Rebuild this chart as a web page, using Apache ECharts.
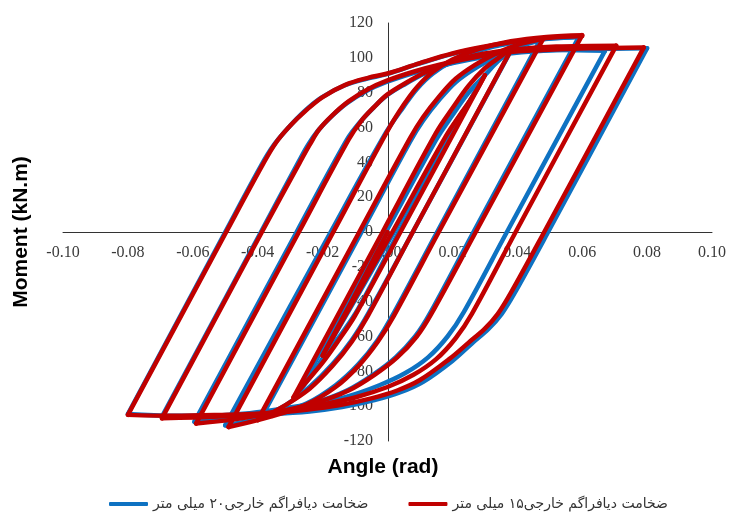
<!DOCTYPE html>
<html>
<head>
<meta charset="utf-8">
<script src="https://cdn.jsdelivr.net/npm/echarts@6/dist/echarts.min.js"></script>
<style>
  html, body { margin: 0; padding: 0; background: #fff; }
  #chart { width: 729px; height: 516px; }
</style>
</head>
<body>
<div id="chart"></div>
<script>
// Cyclic moment-rotation response of the connection for two external diaphragm thicknesses.
const seriesNames = [
  'ضخامت دیافراگم خارجی۲۰ میلی متر',
  'ضخامت دیافراگم خارجی۱۵ میلی متر'
];
const xTicks = [-0.10, -0.08, -0.06, -0.04, -0.02, 0.00, 0.02, 0.04, 0.06, 0.08, 0.10];
const yTicks = [-120, -100, -80, -60, -40, -20, 0, 20, 40, 60, 80, 100, 120];

// [angle (rad), moment (kN.m)] — 20 mm diaphragm, one array per half-cycle
const blue20 = [
  [[0, 0], [-0.010, -35], [-0.015, -53], [-0.019, -68]],
  [[-0.019, -68], [0.002, 0], [0.018, 54], [0.022, 66], [0.026, 77], [0.0285, 86]],
  [[0.0285, 86], [0.0035, 0], [-0.009, -44], [-0.014, -58], [-0.019, -70], [-0.023, -81], [-0.027, -91]],
  [[-0.027, -91], [-0.0005, 0], [0.015, 53], [0.020, 67], [0.025, 80], [0.030, 90], [0.034, 98], [0.038, 104]],
  [[0.038, 104], [0.0078, 0], [-0.006, -47], [-0.011, -62], [-0.017, -76], [-0.024, -89], [-0.031, -99], [-0.039, -107]],
  [[-0.039, -107], [-0.008, 0], [0.007, 52], [0.011, 64], [0.016, 76], [0.021, 86], [0.027, 94], [0.034, 101], [0.040, 106], [0.047, 110]],
  [[0.047, 110], [0.0153, 0], [0.0015, -48], [-0.003, -62], [-0.009, -76], [-0.016, -88], [-0.025, -98.5], [-0.037, -106], [-0.050, -111]],
  [[-0.050, -111], [-0.0175, 0], [-0.0005, 57], [0.005, 72], [0.009, 82], [0.014, 91], [0.020, 98], [0.028, 104], [0.038, 108.5], [0.049, 111], [0.059, 112]],
  [[0.059, 112], [0.0265, 0], [0.013, -47], [0.0085, -60], [0.0025, -72], [-0.0045, -82], [-0.0125, -91], [-0.0225, -98], [-0.034, -103], [-0.046, -106.5], [-0.0595, -109]],
  [[-0.0595, -109], [-0.0280, 0], [-0.0125, 53], [-0.0085, 63], [-0.0045, 71], [-0.0005, 78], [0.0055, 85], [0.0115, 91], [0.0195, 97], [0.0295, 101.5], [0.0395, 103.5], [0.052, 104.5], [0.067, 104]],
  [[0.067, 104], [0.0368, 0], [0.0235, -46], [0.0185, -60], [0.0125, -72], [0.0055, -81], [-0.0025, -88], [-0.0125, -94.5], [-0.0225, -98.5], [-0.0325, -101.5], [-0.0425, -104], [-0.054, -105.5], [-0.0695, -106]],
  [[-0.0695, -106], [-0.0390, 0], [-0.0275, 40], [-0.0245, 50], [-0.0215, 58], [-0.0175, 66], [-0.0125, 74], [-0.0065, 81], [-0.0005, 86], [0.0075, 91], [0.0155, 95], [0.0255, 99], [0.0355, 102], [0.048, 104], [0.062, 105], [0.080, 105.5]],
  [[0.080, 105.5], [0.0495, 0], [0.0392, -35], [0.0352, -47], [0.0312, -55.5], [0.026, -64], [0.020, -74], [0.011, -86], [0.004, -92], [-0.004, -96.5], [-0.014, -100.5], [-0.024, -103], [-0.036, -104.5], [-0.051, -105.5], [-0.066, -105.5], [-0.080, -104.5]],
  [[-0.080, -104.5], [-0.0500, 0], [-0.0390, 38], [-0.0350, 50], [-0.0305, 60], [-0.0255, 69.5], [-0.0205, 77], [-0.0135, 84], [-0.0065, 88], [-0.0005, 90.5], [0.0095, 96.5], [0.0195, 102], [0.0295, 106], [0.0395, 109], [0.0495, 111], [0.058, 112]]
];

// [angle (rad), moment (kN.m)] — 15 mm diaphragm, one array per half-cycle
const red15 = [
  [[0, 0], [-0.010, -36], [-0.016, -57], [-0.020, -71]],
  [[-0.020, -71], [0.0015, 0], [0.018, 55], [0.023, 69], [0.027, 80], [0.030, 90]],
  [[0.030, 90], [0.004, 0], [-0.010, -48], [-0.015, -62], [-0.020, -75], [-0.025, -86], [-0.029, -95]],
  [[-0.029, -95], [-0.0015, 0], [0.015, 57], [0.020, 71], [0.025, 84], [0.030, 94], [0.035, 101], [0.0385, 106]],
  [[0.0385, 106], [0.0078, 0], [-0.006, -48], [-0.011, -63], [-0.017, -77], [-0.024, -90], [-0.032, -100], [-0.040, -108]],
  [[-0.040, -108], [-0.0087, 0], [0.007, 54], [0.011, 66], [0.016, 78], [0.021, 88], [0.027, 96], [0.034, 103], [0.041, 108], [0.048, 111]],
  [[0.048, 111], [0.0158, 0], [0.002, -48], [-0.003, -63], [-0.009, -77], [-0.016, -89], [-0.025, -99], [-0.036, -106], [-0.049, -112]],
  [[-0.049, -112], [-0.0167, 0], [0.000, 58], [0.005, 73], [0.009, 83], [0.014, 92], [0.020, 99], [0.028, 105], [0.038, 109.5], [0.049, 112], [0.060, 113]],
  [[0.060, 113], [0.0272, 0], [0.0135, -47], [0.009, -60], [0.003, -72], [-0.004, -82], [-0.012, -91], [-0.022, -98], [-0.033, -103], [-0.045, -107], [-0.059, -110]],
  [[-0.059, -110], [-0.0273, 0], [-0.012, 53], [-0.008, 64], [-0.004, 72], [0.000, 79], [0.006, 86], [0.012, 92], [0.020, 98], [0.030, 102.5], [0.040, 105], [0.052, 106.5], [0.0705, 107]],
  [[0.0705, 107], [0.0395, 0], [0.026, -47], [0.021, -61], [0.015, -73], [0.008, -82], [0.000, -89], [-0.010, -95], [-0.020, -99], [-0.030, -102], [-0.040, -104.5], [-0.052, -106], [-0.0695, -107]],
  [[-0.0695, -107], [-0.0387, 0], [-0.027, 40], [-0.024, 50], [-0.021, 59], [-0.017, 67], [-0.012, 75], [-0.006, 82], [0.000, 87], [0.008, 92], [0.016, 96], [0.026, 100], [0.036, 103], [0.048, 104.5], [0.062, 105.5], [0.079, 106]],
  [[0.079, 106], [0.0483, 0], [0.038, -35], [0.034, -47], [0.030, -55.5], [0.025, -63.5], [0.019, -73], [0.010, -85], [0.003, -91], [-0.005, -95.5], [-0.015, -99.5], [-0.025, -102], [-0.037, -104], [-0.052, -105], [-0.066, -105.5], [-0.080, -105]],
  [[-0.080, -105], [-0.0497, 0], [-0.0385, 38.5], [-0.0345, 51], [-0.030, 61], [-0.025, 70], [-0.020, 77.5], [-0.013, 84.5], [-0.006, 88.5], [0.000, 91], [0.010, 97], [0.020, 102.5], [0.030, 106.5], [0.040, 109.5], [0.050, 111.5], [0.060, 112.5]]
];

const colors = ['#0E72C2', '#C00000'];
const tickFont = { fontFamily: 'Liberation Serif', fontSize: 16, color: '#3a3a3a' };

// plot frame in pixels
const grid = { left: 63, right: 16, top: 23, bottom: 75 };
const plotW = 729 - grid.left - grid.right;
const plotH = 516 - grid.top - grid.bottom;

const chart = echarts.init(document.getElementById('chart'), null, { renderer: 'canvas' });

// each half-cycle is its own line so the reversal tips stay sharp while the bends are smoothed
const branchSeries = (name, branches, color) => branches.map(pts => ({
  name: name,
  type: 'line',
  data: pts,
  showSymbol: false,
  symbol: 'none',
  smooth: 0.35,
  animation: false,
  lineStyle: { color: color, width: 4.5, join: 'round', cap: 'round' },
  itemStyle: { color: color }
}));

chart.setOption({
  animation: false,
  grid: Object.assign({ containLabel: false }, grid),
  xAxis: {
    type: 'value',
    position: 'bottom',
    offset: -plotH / 2,
    min: xTicks[0],
    max: xTicks[xTicks.length - 1],
    interval: 0.02,
    axisLine: { onZero: false, lineStyle: { color: '#333', width: 1 } },
    axisTick: { show: false },
    splitLine: { show: false },
    axisLabel: Object.assign({ margin: 13, formatter: v => v.toFixed(2) }, tickFont)
  },
  yAxis: {
    type: 'value',
    position: 'left',
    offset: -plotW / 2,
    min: yTicks[0],
    max: yTicks[yTicks.length - 1],
    interval: 20,
    axisLine: { show: true, onZero: false, lineStyle: { color: '#333', width: 1 } },
    axisTick: { show: false },
    splitLine: { show: false },
    axisLabel: Object.assign({ margin: 15, formatter: v => String(v) }, tickFont)
  },
  legend: {
    left: 104,
    top: 492,
    itemGap: 40,
    itemWidth: 39,
    itemHeight: 4,
    icon: 'roundRect',
    data: seriesNames,
    textStyle: { fontFamily: 'DejaVu Sans', fontSize: 14, color: '#333' }
  },
  graphic: [
    {
      type: 'text',
      x: 383,
      y: 467,
      style: {
        text: 'Angle (rad)',
        font: 'bold 21px "Liberation Sans"',
        fill: '#000',
        textAlign: 'center',
        textVerticalAlign: 'middle'
      }
    },
    {
      type: 'text',
      x: 21,
      y: 232,
      rotation: Math.PI / 2,
      style: {
        text: 'Moment (kN.m)',
        font: 'bold 21px "Liberation Sans"',
        fill: '#000',
        textAlign: 'center',
        textVerticalAlign: 'middle'
      }
    }
  ],
  series: branchSeries(seriesNames[0], blue20, colors[0])
    .concat(branchSeries(seriesNames[1], red15, colors[1]))
});
</script>
</body>
</html>
